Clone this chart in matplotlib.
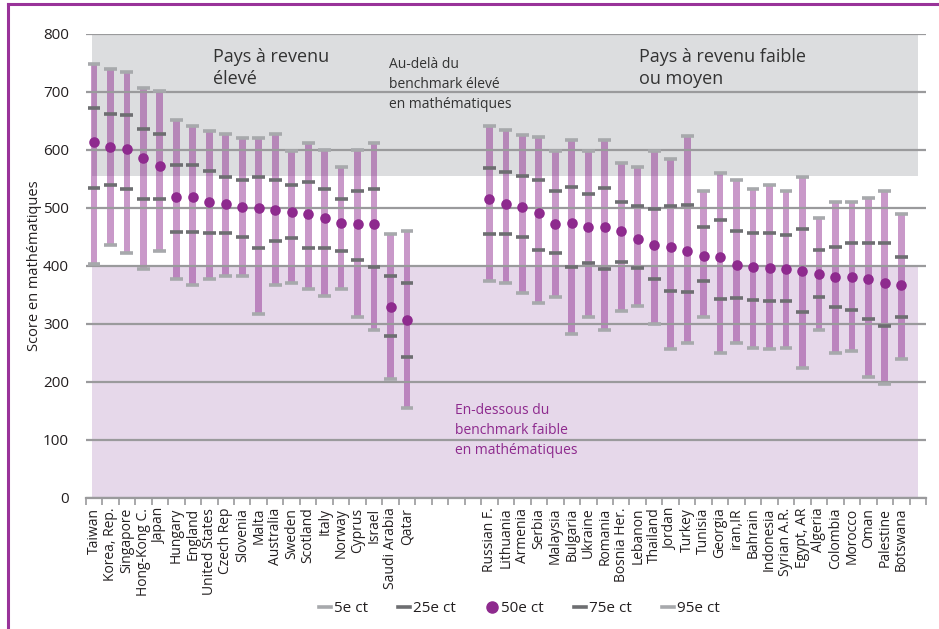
import matplotlib
matplotlib.use('Agg')
import matplotlib.pyplot as plt
from matplotlib.lines import Line2D
import numpy as np

plt.rcParams['font.family'] = ['Open Sans', 'DejaVu Sans']

# pays à revenu élevé
high = ['Taiwan', 'Korea, Rep.', 'Singapore', 'Hong-Kong C.', 'Japan', 'Hungary', 'England',
        'United States', 'Czech Rep', 'Slovenia', 'Malta', 'Australia', 'Sweden', 'Scotland',
        'Italy', 'Norway', 'Cyprus', 'Israel', 'Saudi Arabia', 'Qatar']
high_p5 = [403, 437, 422, 394, 426, 378, 367, 378, 382, 382, 317, 367, 370, 360, 349, 360, 312, 289, 205, 155]
high_p25 = [534, 539, 532, 515, 515, 458, 458, 457, 457, 450, 431, 443, 448, 431, 431, 425, 410, 399, 279, 243]
high_p50 = [613, 605, 601, 586, 573, 519, 519, 510, 506, 502, 500, 497, 493, 490, 483, 474, 472, 472, 330, 307]
high_p75 = [672, 662, 660, 637, 627, 574, 574, 563, 553, 548, 553, 548, 539, 544, 532, 515, 529, 532, 382, 370]
high_p95 = [748, 739, 734, 706, 702, 651, 641, 633, 627, 620, 620, 627, 599, 612, 600, 570, 600, 612, 455, 460]

# pays à revenu faible ou moyen
low = ['Russian F.', 'Lithuania', 'Armenia', 'Serbia', 'Malaysia', 'Bulgaria', 'Ukraine', 'Romania',
       'Bosnia Her.', 'Lebanon', 'Thailand', 'Jordan', 'Turkey', 'Tunisia', 'Georgia', 'iran,IR',
       'Bahrain', 'Indonesia', 'Syrian A.R.', 'Egypt, AR', 'Algeria', 'Colombia', 'Morocco', 'Oman',
       'Palestine', 'Botswana']
low_p5 = [374, 370, 353, 337, 346, 282, 312, 289, 322, 331, 300, 256, 267, 312, 250, 267, 258, 256, 258, 224, 289, 250, 253, 208, 196, 239]
low_p25 = [455, 455, 450, 427, 422, 398, 405, 394, 406, 396, 377, 356, 355, 374, 343, 344, 341, 339, 339, 320, 346, 329, 324, 308, 296, 312]
low_p50 = [516, 507, 502, 491, 472, 474, 468, 467, 460, 446, 437, 432, 425, 418, 415, 402, 399, 397, 394, 392, 387, 381, 381, 378, 370, 367]
low_p75 = [569, 562, 555, 549, 529, 537, 524, 534, 510, 503, 499, 503, 505, 467, 479, 460, 456, 456, 453, 463, 427, 432, 439, 439, 439, 415]
low_p95 = [641, 635, 625, 622, 599, 617, 599, 617, 577, 570, 599, 584, 624, 529, 560, 549, 532, 539, 529, 553, 482, 510, 510, 518, 529, 489]

labels = high + ['', '', '', ''] + low + ['']
p5 = np.array(high_p5 + [np.nan] * 4 + low_p5 + [np.nan], dtype=float)
p25 = np.array(high_p25 + [np.nan] * 4 + low_p25 + [np.nan], dtype=float)
p50 = np.array(high_p50 + [np.nan] * 4 + low_p50 + [np.nan], dtype=float)
p75 = np.array(high_p75 + [np.nan] * 4 + low_p75 + [np.nan], dtype=float)
p95 = np.array(high_p95 + [np.nan] * 4 + low_p95 + [np.nan], dtype=float)
x = np.arange(len(labels))
ok = ~np.isnan(p50)

purple = '#8e2a8e'
dark = '#6d6e71'
light = '#a7a9ac'
grid = '#9a9a9c'

fig = plt.figure(figsize=(9.39, 6.29), dpi=100)
ax = fig.add_axes([0.0913, 0.2083, 0.8949, 0.7377])

# zones des benchmarks
ax.fill_between([-0.12, 50.0], 555, 800, color='#dcdddf', lw=0, zorder=0)
ax.fill_between([-0.12, 50.0], 0, 400, color='#e6d8ea', lw=0, zorder=0)

ax.set_ylim(0, 800)
ax.set_xlim(-0.5, 50.5)
ax.set_yticks(range(0, 801, 100))
ax.yaxis.grid(True, color=grid, lw=1.6, zorder=1)
ax.set_axisbelow(False)

ax.bar(x[ok], (p95 - p5)[ok], bottom=p5[ok], width=0.41, color=purple, alpha=0.48, lw=0, zorder=2)
w = 0.39
ax.hlines(p5[ok], x[ok] - w, x[ok] + w, color=light, lw=2.6, zorder=3)
ax.hlines(p95[ok], x[ok] - w, x[ok] + w, color=light, lw=2.6, zorder=3)
ax.hlines(p25[ok], x[ok] - w, x[ok] + w, color=dark, lw=2.6, zorder=3)
ax.hlines(p75[ok], x[ok] - w, x[ok] + w, color=dark, lw=2.6, zorder=3)
ax.scatter(x[ok], p50[ok], s=58, color=purple, lw=0, zorder=4)

for s in ['top', 'right', 'left']:
    ax.spines[s].set_visible(False)
ax.spines['bottom'].set_color(grid)
ax.spines['bottom'].set_linewidth(1.6)

ax.set_xticks(x)
ax.set_xticklabels(labels, rotation=90, fontsize=10, color='#231f20')
ax.set_xticks(np.arange(-0.5, 51, 1), minor=True)
ax.tick_params(axis='x', which='major', length=0, pad=7)
ax.tick_params(axis='x', which='minor', length=5, width=1.2, color=grid)
ax.tick_params(axis='y', length=0, pad=12, labelsize=11, labelcolor='#231f20')
ax.set_ylabel('Score en mathématiques', fontsize=10.5, color='#231f20', labelpad=1)

txt = '#333333'
ax.text(7.2, 776, 'Pays à revenu\nélevé', fontsize=13, color=txt, va='top', linespacing=1.3)
ax.text(17.9, 760, 'Au-delà du\nbenchmark élevé\nen mathématiques', fontsize=10, color=txt,
        va='top', linespacing=1.45)
ax.text(21.9, 164, 'En-dessous du\nbenchmark faible\nen mathématiques', fontsize=10, color=purple,
        va='top', linespacing=1.45)
ax.text(33.1, 776, 'Pays à revenu faible\nou moyen', fontsize=13, color=txt, va='top', linespacing=1.3)

handles = [Line2D([], [], color=light, lw=2.6),
           Line2D([], [], color=dark, lw=2.6),
           Line2D([], [], color=purple, marker='o', ls='none', markersize=8),
           Line2D([], [], color=dark, lw=2.6),
           Line2D([], [], color=light, lw=2.6)]
fig.legend(handles, ['5e ct', '25e ct', '50e ct', '75e ct', '95e ct'], loc='center',
           bbox_to_anchor=(0.553, 0.032), ncol=5, frameon=False, fontsize=11,
           handlelength=0.8, handletextpad=0.2, columnspacing=1.95, labelcolor='#231f20')

# cadre violet
fig.add_artist(Line2D([0.0085, 0.0085], [0, 0.994], transform=fig.transFigure, color='#993399', lw=2.2))
fig.add_artist(Line2D([0.0085, 1], [0.994, 0.994], transform=fig.transFigure, color='#993399', lw=2.2))

fig.savefig('out.png', dpi=100)
